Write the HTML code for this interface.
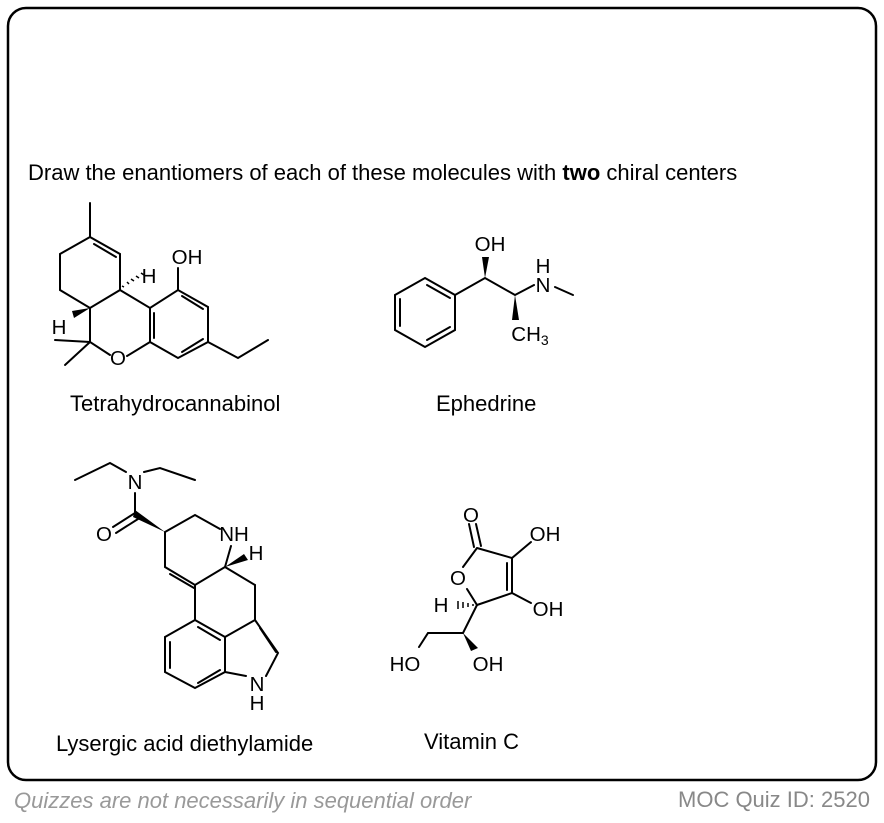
<!DOCTYPE html>
<html><head><style>
body{margin:0;background:#fff;width:884px;height:818px;overflow:hidden;font-family:"Liberation Sans",Arial,sans-serif}
</style></head><body>
<svg width="884" height="818" xmlns="http://www.w3.org/2000/svg" font-family="Liberation Sans, Arial, sans-serif">
<rect x="8" y="8" width="868" height="772" rx="18" fill="#fff" stroke="#000" stroke-width="2.5"/>
<text x="28" y="180" font-size="22">Draw the enantiomers of each of these molecules with <tspan font-weight="bold">two</tspan> chiral centers</text>
<g stroke="#000" stroke-width="2" fill="none" stroke-linecap="round">
<path d="M90 203L90 237L120 254L120 290L90 308L60 290L60 254L90 237"/>
<path d="M94 244L116 257"/>
<path d="M120 290L150 308L178 290L208 307L208 342L178 358L150 342L150 308"/>
<path d="M154 313L154 338M182 296L203 309M182 352L203 339"/>
<path d="M178 290L178 268"/>
<path d="M90 308L90 342L110 355M127 356L150 342"/>
<path d="M90 342L55 340M90 342L65 365"/>
<path d="M208 342L238 358L268 340"/>
<path d="M425 278L455 295L455 330L425 347L395 330L395 295Z"/>
<path d="M400 299L400 326M427 285L450 298M427 340L450 327"/>
<path d="M455 295L485 278L515 295L534 285M555 287L573 295"/>
<path d="M75 480L110 463L126 472M144 472L160 468L195 480"/>
<path d="M135 493L135 513L113 527M138 519L116 533"/>
<path d="M165 532L195 515L220 529M231 546L225 567L255 585L255 620L278 653L266 676M246 676L225 672"/>
<path d="M165 532L165 567L195 585L225 567M170 574L194 588"/>
<path d="M195 585L195 620L225 637L225 672L195 688L165 672L165 637L195 620"/>
<path d="M225 637L255 620M260 628L276 652M170 642L170 668M198 683L220 670M198 627L220 640"/>
<path d="M477 548L512 558L512 593L477 605L467 589M463 567L477 548M507 563L507 590"/>
<path d="M474 547L469 524M481 546L476 524"/>
<path d="M512 558L531 542M512 593L531 603"/>
<path d="M477 605L463 633L428 633L419 647"/>
</g>
<g fill="#000">
<polygon points="90,308 72,311 74,318"/>
<polygon points="485,278 482,257 489,257"/>
<polygon points="515,295 512,320 519,320"/>
<polygon points="165,532 135,510 133,517"/>
<polygon points="225,567 244,554 248,560"/>
<polygon points="463,633 471,651 478,648"/>
</g>
<g stroke="#000" stroke-width="1.5">
<path d="M124 287L122 286M129 284L127 282M134 281L131 279M139 278L136 276M144 275L141 273"/>
<path d="M473 604L473 606M468 603L468 607M463 602L463 608M458 601L458 609"/>
</g>
<g font-size="20.5" text-anchor="middle">
<text x="187" y="264">OH</text>
<text x="149" y="283">H</text>
<text x="59" y="334">H</text>
<text x="118" y="365">O</text>
<text x="490" y="251">OH</text>
<text x="543" y="273">H</text>
<text x="543" y="292">N</text>
<text x="530" y="341">CH<tspan font-size="14" dy="4">3</tspan></text>
<text x="135" y="489">N</text>
<text x="104" y="541">O</text>
<text x="234" y="541">NH</text>
<text x="256" y="560">H</text>
<text x="257" y="691">N</text>
<text x="257" y="710">H</text>
<text x="471" y="522">O</text>
<text x="545" y="541">OH</text>
<text x="458" y="585">O</text>
<text x="548" y="616">OH</text>
<text x="441" y="612">H</text>
<text x="405" y="671">HO</text>
<text x="488" y="671">OH</text>
</g>
<g font-size="22">
<text x="70" y="411">Tetrahydrocannabinol</text>
<text x="436" y="411">Ephedrine</text>
<text x="56" y="751">Lysergic acid diethylamide</text>
<text x="424" y="749">Vitamin C</text>
</g>
<text x="14" y="808" font-size="22" font-style="italic" fill="#999">Quizzes are not necessarily in sequential order</text>
<text x="678" y="807" font-size="22" fill="#888">MOC Quiz ID: 2520</text>
</svg>
</body></html>
